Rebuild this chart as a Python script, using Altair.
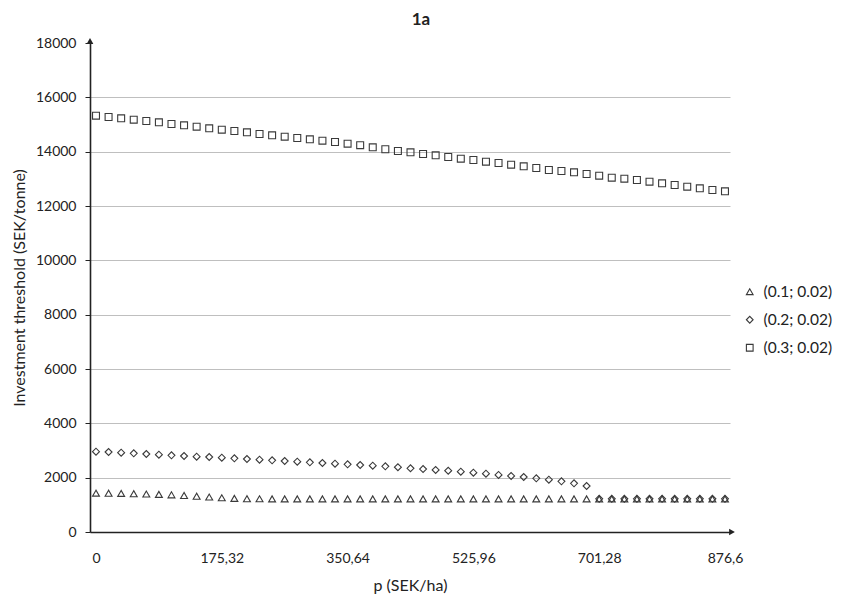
import altair as alt
import pandas as pd

# x values: p (SEK/ha), 51 evenly spaced prices from 0 to 876.6
p_values = [round(17.532 * i, 3) for i in range(51)]

series_names = ["(0.1; 0.02)", "(0.2; 0.02)", "(0.3; 0.02)"]

tri_values = [1430, 1428, 1420, 1410, 1398, 1385, 1368, 1345, 1318, 1288, 1258, 1238, 1226, 1222, 1220,
              1220, 1220, 1220, 1220, 1220, 1220, 1220, 1220, 1220, 1220, 1220, 1220, 1220, 1220, 1220,
              1220, 1220, 1220, 1220, 1220, 1220, 1220, 1220, 1220, 1220, 1220, 1220, 1220, 1220, 1220,
              1220, 1220, 1220, 1220, 1220, 1220]

dia_values = [2957, 2945, 2920, 2896, 2871, 2847, 2822, 2798, 2773, 2761, 2736, 2712, 2687, 2663, 2638,
              2613, 2589, 2564, 2540, 2515, 2491, 2466, 2442, 2417, 2385, 2346, 2318, 2284, 2256, 2221,
              2184, 2147, 2100, 2062, 2025, 1975, 1926, 1865, 1791, 1693, 1220, 1220, 1220, 1220, 1220,
              1220, 1220, 1220, 1220, 1220, 1220]

sq_values = [15325, 15276, 15227, 15178, 15129, 15080, 15018, 14969, 14920, 14859, 14810, 14761, 14712,
             14650, 14601, 14552, 14503, 14454, 14405, 14356, 14294, 14240, 14160, 14090, 14024, 13975,
             13914, 13865, 13804, 13742, 13693, 13632, 13583, 13521, 13460, 13399, 13325, 13288, 13239,
             13178, 13116, 13043, 13006, 12957, 12896, 12834, 12773, 12712, 12650, 12590, 12540]

x_ticks = [0, 175.32, 350.64, 525.96, 701.28, 876.6]
y_ticks = [0, 2000, 4000, 6000, 8000, 10000, 12000, 14000, 16000, 18000]

rows = []
for name, vals in zip(series_names, [tri_values, dia_values, sq_values]):
    for p, v in zip(p_values, vals):
        rows.append({"p": p, "value": v, "series": name, "order": series_names.index(name)})
df = pd.DataFrame(rows)

FONT = "Lato"
INK = "#3a3a3a"

xscale = alt.Scale(domain=[-8.36, 883.6], nice=False, zero=False)
yscale = alt.Scale(domain=[0, 18000], nice=False)

points = alt.Chart(df).mark_point(filled=False, color=INK, strokeWidth=1.1, opacity=1, size=48).encode(
    x=alt.X("p:Q", scale=xscale,
            axis=alt.Axis(values=x_ticks, title="p (SEK/ha)", grid=False, ticks=False,
                          labelExpr="replace(toString(datum.value), '.', ',')",
                          labelPadding=19, titlePadding=12, labelFlush=False, labelOverlap=False)),
    y=alt.Y("value:Q", scale=yscale,
            axis=alt.Axis(values=y_ticks, title="Investment threshold (SEK/tonne)", format="d",
                          grid=True, tickSize=5, labelPadding=9, titlePadding=8,
                          gridColor={"condition": {"test": "datum.value == 18000 || datum.value == 0",
                                                   "value": "transparent"}, "value": "#bfbfbf"})),
    shape=alt.Shape("series:N",
                    scale=alt.Scale(domain=series_names, range=["triangle-up", "diamond", "square"]),
                    legend=alt.Legend(title=None, orient="none", legendX=652, legendY=241,
                                      labelFontSize=15.5, labelFont=FONT, labelColor="#222222",
                                      symbolStrokeColor=INK, symbolStrokeWidth=1.1, symbolSize=45,
                                      symbolFillColor="white", rowPadding=11, labelOffset=6,
                                      labelLimit=200)),
    order=alt.Order("order:Q"),
)

arrow_y = alt.Chart(df.head(1)).mark_point(shape="triangle-up", filled=True, color="#222222",
                                           size=45, opacity=1).encode(
    x=alt.value(0), y=alt.value(-2))
arrow_x = alt.Chart(df.head(1)).mark_point(shape="triangle-right", filled=True, color="#222222",
                                           size=45, opacity=1).encode(
    x=alt.value(642), y=alt.value(489))

chart = alt.layer(points, arrow_y, arrow_x).properties(
    width=640, height=489,
    padding={"left": 82, "top": 35, "right": 104, "bottom": 62},
    autosize=alt.AutoSizeParams(type="none"),
    title=alt.Title("1a", fontSize=17, fontWeight="bold", font=FONT, color="#222222",
                    anchor="middle", dx=11, offset=7),
).configure_view(stroke=None).configure_axis(
    labelFont=FONT, titleFont=FONT, labelFontSize=14, titleFontSize=16,
    labelColor="#222222", titleColor="#222222", titleFontWeight="normal",
    domainColor="#222222", domainWidth=1.6, tickColor="#222222",
)

chart.save("out.html", embed_options={"renderer": "svg", "actions": False})
